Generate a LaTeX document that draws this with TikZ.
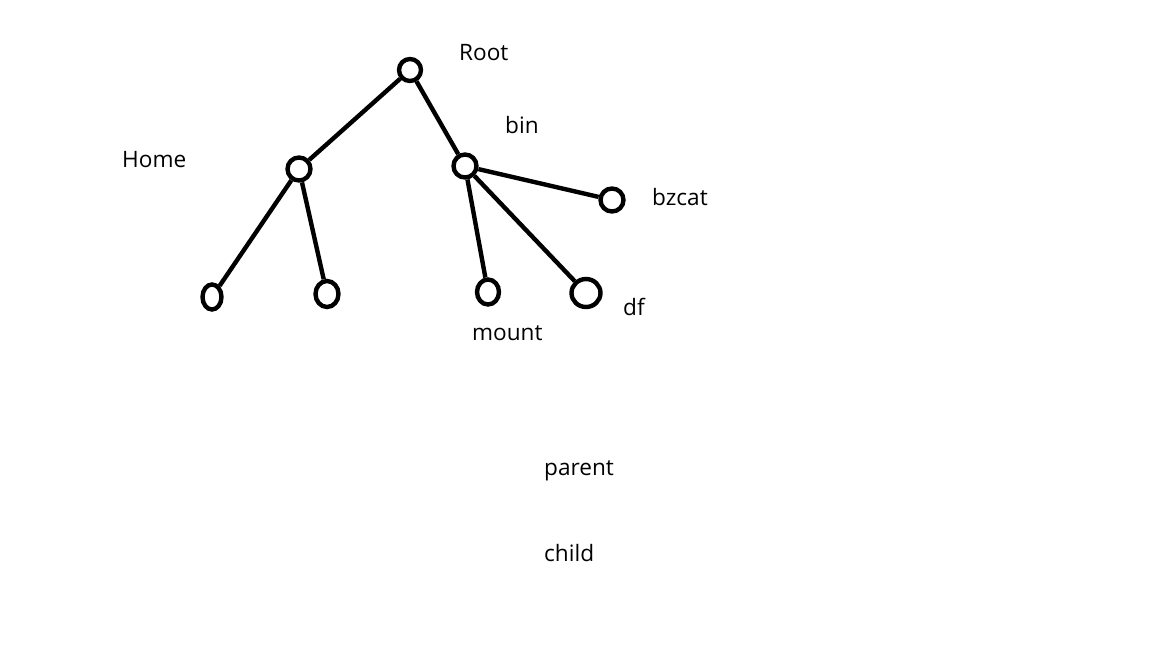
\documentclass[tikz,border=0pt]{standalone}
\usepackage{fontspec}
\setmainfont{Open Sans}
\usetikzlibrary{shapes.geometric}
\begin{document}
\begin{tikzpicture}[x=1pt,y=-1pt,
  vert/.style={draw,shape=ellipse,line width=4.4pt,inner sep=0pt},
  edge/.style={line width=4.4pt},
  lbl/.style={anchor=base west,inner sep=0pt,font=\fontsize{22.6}{27}\selectfont}]
\useasboundingbox[fill=white] (0,0) rectangle (1152,648);
\node[vert,minimum width=22pt,minimum height=22pt] (root) at (410,70) {};
\node[vert,minimum width=23pt,minimum height=23pt] (home) at (299,169) {};
\node[vert,minimum width=23pt,minimum height=23pt] (bin) at (465,166) {};
\node[vert,minimum width=23pt,minimum height=23pt] (bzcat) at (612,200) {};
\node[vert,minimum width=19pt,minimum height=25pt] (l1) at (212,297) {};
\node[vert,minimum width=23pt,minimum height=26pt] (l2) at (327,294) {};
\node[vert,minimum width=22pt,minimum height=25pt] (mount) at (488,292) {};
\node[vert,minimum width=29pt,minimum height=28pt] (df) at (586,293) {};
\draw[edge] (root) -- (home);
\draw[edge] (root) -- (bin);
\draw[edge] (bin) -- (bzcat);
\draw[edge] (bin) -- (mount);
\draw[edge] (bin) -- (df);
\draw[edge] (home) -- (l1);
\draw[edge] (home) -- (l2);
\node[lbl] (troot) at (459,60) {Root};
\node[lbl] (tbin) at (505,133) {bin};
\node[lbl] (thome) at (122,167) {Home};
\node[lbl] (tbzcat) at (652,205) {bzcat};
\node[lbl] (tmount) at (472,340) {mount};
\node[lbl] (tdf) at (623,315) {df};
\node[lbl] (tparent) at (544,475) {parent};
\node[lbl] (tchild) at (544,561) {child};
\end{tikzpicture}
\end{document}
